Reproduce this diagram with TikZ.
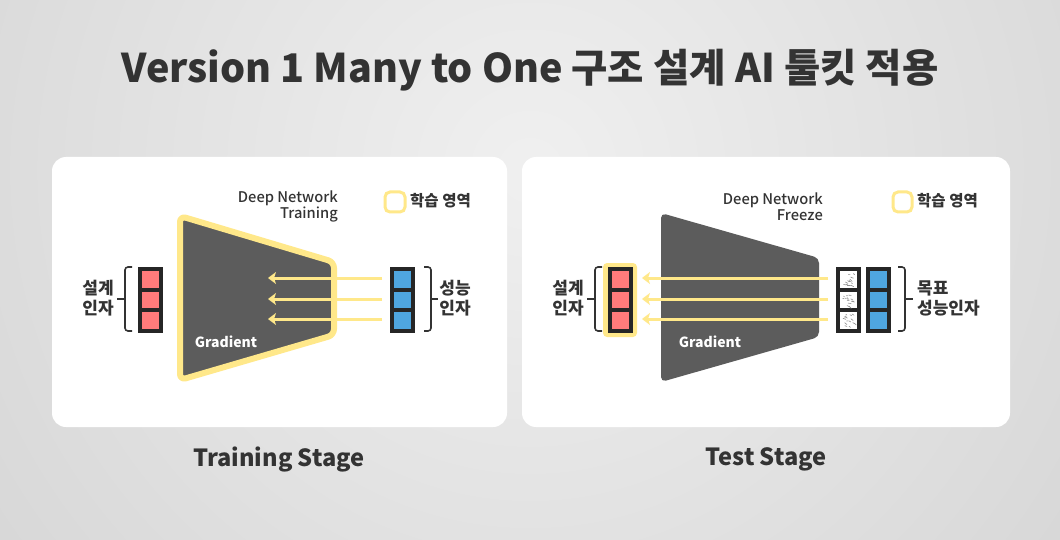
\documentclass[tikz,border=0pt]{standalone}
\usepackage{fontspec}
\setmainfont{Noto Sans CJK KR}
\newfontfamily\medfont{Noto Sans CJK KR Medium}
\usetikzlibrary{arrows.meta}
\definecolor{textc}{HTML}{333333}
\definecolor{colc}{HTML}{262626}
\definecolor{trap}{HTML}{5C5C5C}
\definecolor{yel}{HTML}{FFE88A}
\definecolor{redc}{HTML}{FF7B7B}
\definecolor{bluec}{HTML}{4FA6E0}
\tikzset{
  txt/.style={text=textc, inner sep=0pt},
  colbox/.style={fill=colc, draw=none, minimum width=25, minimum height=66, inner sep=0pt},
  cell/.style={minimum width=17, minimum height=16.5, inner sep=0pt, draw=none},
  arr/.style={draw=yel, line width=3, -{Stealth[length=8,width=12,inset=2]}},
  bracepath/.style={draw=textc, line width=1.6, rounded corners=3},
  panel/.style={fill=white, draw=none, rounded corners=14},
  legendbox/.style={draw=yel, line width=3, rounded corners=5, fill=white},
}
\begin{document}
\begin{tikzpicture}[x=1pt,y=-1pt]
\useasboundingbox (0,0) rectangle (1060,540);
% background
\begin{scope}
\clip (0,0) rectangle (1060,540);
\shade[inner color=white!94!black, outer color=white!83!black] (530,170) circle (760);
\end{scope}
% title
\node[txt, font=\fontsize{39.5}{46}\selectfont\bfseries] (title) at (530,70) {Version 1 Many to One 구조 설계 AI 툴킷 적용};
% panels
\path[panel] (52,157) rectangle (507,427);
\path[panel] (522,157) rectangle (1010,427);
\node[txt, font=\fontsize{23.6}{28}\selectfont\bfseries] (stageL) at (279,459.5) {Training Stage};
\node[txt, font=\fontsize{23.6}{28}\selectfont\bfseries] (stageR) at (766,459.5) {Test Stage};

% ===== left panel =====
\draw[fill=trap, draw=yel, line width=6, rounded corners=6, line join=round]
  (180,216) -- (334,262) -- (334,335) -- (180,380) -- cycle;
\node[txt, text=white, font=\fontsize{14}{16}\selectfont\bfseries] (gradL) at (226,342) {Gradient};
\node[txt, anchor=east, align=right, font=\fontsize{14.7}{15.5}\selectfont\medfont] (dnL) at (338,206.5) {Deep Network\\Training};
\path[legendbox] (385,192) rectangle (405,212);
\node[txt, anchor=west, font=\fontsize{15.5}{18}\selectfont\bfseries] (lgL) at (410,201) {학습 영역};

\node[colbox] (redL) at (150.5,300) {};
\foreach \cy in {279.25,299.75,320.25} \node[cell, fill=redc] at (150.5,\cy) {};
\node[colbox] (blueL) at (402.5,300) {};
\foreach \cy in {279.25,299.75,320.25} \node[cell, fill=bluec] at (402.5,\cy) {};

\draw[bracepath] (132,267) -- (125,267) -- (125,331) -- (132,331);
\draw[draw=textc, line width=1.6] (117,299) -- (125,299);
\draw[bracepath] (424,267) -- (431,267) -- (431,331) -- (424,331);
\draw[draw=textc, line width=1.6] (431,299) -- (438,299);
\node[txt, align=center, font=\fontsize{17}{20}\selectfont\bfseries] (inL) at (98,298) {설계\\인자};
\node[txt, align=center, font=\fontsize{17}{20}\selectfont\bfseries] (outL) at (455,298) {성능\\인자};

\foreach \i/\yy in {1/278,2/299,3/319} {
  \coordinate (aLs\i) at (382,\yy);
  \coordinate (aLe\i) at (268,\yy);
  \draw[arr] (aLs\i) -- (aLe\i);
}

% ===== right panel =====
\draw[fill=trap, draw=none, rounded corners=5]
  (661,213) -- (819,258) -- (819,337) -- (661,382) -- cycle;
\node[txt, text=white, font=\fontsize{14}{16}\selectfont\bfseries] (gradR) at (710,342) {Gradient};
\node[txt, anchor=east, align=right, font=\fontsize{14.7}{15.5}\selectfont\medfont] (dnR) at (823,206.5) {Deep Network\\Freeze};
\path[legendbox] (893,192) rectangle (912,212);
\node[txt, anchor=west, font=\fontsize{15.5}{18}\selectfont\bfseries] (lgR) at (917,201) {학습 영역};

\path[fill=yel, rounded corners=4] (603,263) rectangle (637,337);
\node[colbox] (redR) at (620.5,300) {};
\foreach \cy in {279.25,299.75,320.25} \node[cell, fill=redc] at (620.5,\cy) {};
\node[colbox] (hatR) at (848.5,300) {};
\pgfmathsetseed{7}
\foreach \cy in {279.25,299.75,320.25} {
  \node[cell, fill=white] at (848.5,\cy) {};
  \foreach \k in {1,...,14} {
    \pgfmathsetmacro\rx{848.5+rand*6.5}
    \pgfmathsetmacro\ry{\cy+rand*6.5}
    \pgfmathsetmacro\ang{25+rand*30}
    \pgfmathsetmacro\len{1+rnd*2.2}
    \draw[black!45, line width=0.6, line cap=round] (\rx,\ry) -- ++(\ang:\len) ;
  }
}
\node[colbox] (blueR) at (878.5,300) {};
\foreach \cy in {279.25,299.75,320.25} \node[cell, fill=bluec] at (878.5,\cy) {};

\draw[bracepath] (602,267) -- (595,267) -- (595,331) -- (602,331);
\draw[draw=textc, line width=1.6] (587,299) -- (595,299);
\draw[bracepath] (898,267) -- (905,267) -- (905,331) -- (898,331);
\draw[draw=textc, line width=1.6] (905,299) -- (913,299);
\node[txt, align=center, font=\fontsize{17}{20}\selectfont\bfseries] (inR) at (568,298) {설계\\인자};
\node[txt, anchor=west, align=left, font=\fontsize{17}{20}\selectfont\bfseries] (outR) at (917,298) {목표\\성능인자};

\foreach \i/\yy in {1/278,2/299,3/319} {
  \coordinate (aRs\i) at (828,\yy);
  \coordinate (aRe\i) at (642,\yy);
  \draw[arr] (aRs\i) -- (aRe\i);
}
\end{tikzpicture}
\end{document}
